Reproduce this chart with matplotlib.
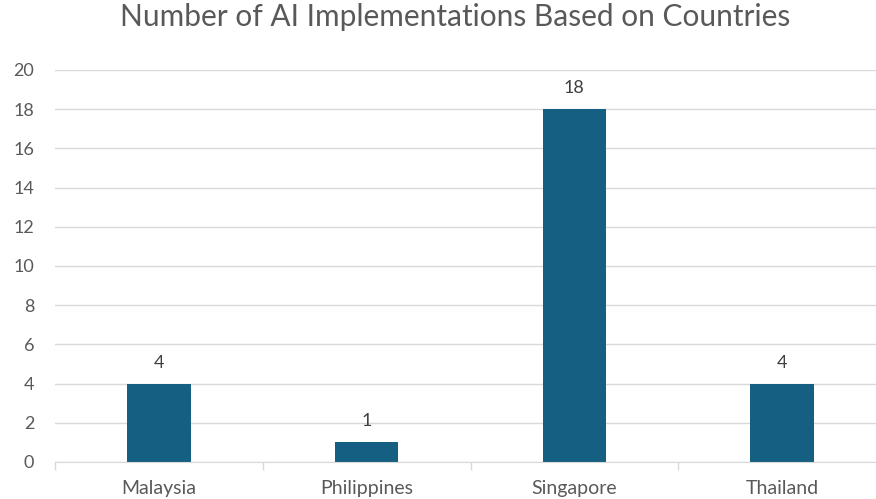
import matplotlib
matplotlib.use("Agg")
import matplotlib.pyplot as plt
import numpy as np

# ── Data ──
countries = ["Malaysia", "Philippines", "Singapore", "Thailand"]
counts = [4, 1, 18, 4]
y_ticks = [0, 2, 4, 6, 8, 10, 12, 14, 16, 18, 20]

bar_color = "#156082"
text_color = "#595959"
grid_color = "#d9d9d9"

plt.rcParams["font.family"] = ["Lato", "DejaVu Sans"]

fig = plt.figure(figsize=(8.76, 4.99), dpi=100)
# plot area runs slightly past the right edge, as in the reference crop
ax = fig.add_axes([55 / 876, 1 - 462 / 499, 831 / 876, 392 / 499])

x = np.arange(len(countries))
bars = ax.bar(x, counts, width=0.305, color=bar_color, zorder=3)

for xi, v in zip(x, counts):
    ax.annotate(str(v), (xi, v), xytext=(0, 16), textcoords="offset pixels",
                ha="center", va="baseline", fontsize=13, color="#404040")

ax.set_xlim(-0.5, len(countries) - 0.5)
ax.set_ylim(0, 20)
ax.set_yticks(y_ticks)
ax.set_yticklabels([str(t) for t in y_ticks], fontsize=13, color=text_color)
ax.tick_params(axis="y", length=0, pad=15)

# category labels centred, tick marks at category boundaries
ax.set_xticks(x)
ax.set_xticklabels(countries, fontsize=14, color=text_color)
ax.tick_params(axis="x", which="major", length=0, pad=13)
ax.set_xticks(np.arange(len(countries) + 1) - 0.5, minor=True)
ax.tick_params(axis="x", which="minor", length=6, color=grid_color, width=1)

ax.yaxis.grid(True, color=grid_color, linewidth=1, zorder=0)
for side in ["top", "right", "left"]:
    ax.spines[side].set_visible(False)
ax.spines["bottom"].set_color(grid_color)
ax.spines["bottom"].set_zorder(4)

fig.suptitle("Number of AI Implementations Based on Countries", x=455 / 876, y=1 - 3 / 499,
             va="top", fontsize=21.5, color=text_color)

fig.savefig("out.png", dpi=100)
